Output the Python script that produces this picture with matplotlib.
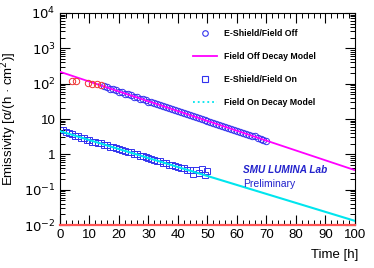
import matplotlib
matplotlib.use("Agg")
import matplotlib.pyplot as plt
import numpy as np
from matplotlib.lines import Line2D
from matplotlib.ticker import FixedLocator, FuncFormatter, MultipleLocator

plt.rcParams['font.family'] = ['Liberation Sans', 'DejaVu Sans']

# Field off, early points (red circles)
t_off_early = [4.0, 5.5, 9.5, 11.0, 12.5, 14.0]
e_off_early = [116, 117, 102, 101, 96, 92]

# Field off (blue circles)
t_off = list(range(15, 71))
e_off = [84, 79, 72, 69, 65, 59, 57, 52, 50, 47, 43, 41, 38, 36.5, 34, 31, 30, 28.5, 26, 25,
         23.2, 21.3, 20.5, 19.2, 17.5, 16.9, 15.5, 14.9, 13.6, 13.1, 12.0, 11.5, 10.6, 10.1, 9.3,
         8.9, 8.2, 7.8, 7.2, 6.9, 6.3, 6.0, 5.6, 5.3, 4.9, 4.7, 4.3, 4.1, 3.8, 3.6, 3.35, 3.2,
         2.95, 2.8, 2.6, 2.45]

# Field on (blue squares)
t_on = list(range(0, 51))
e_on = [4.9, 5.0, 4.3, 3.9, 3.7, 3.3, 3.3, 2.9, 2.9, 2.6, 2.6, 2.3, 2.3, 2.05, 2.05, 1.85,
        1.8, 1.65, 1.6, 1.47, 1.43, 1.3, 1.28, 1.15, 1.14, 1.02, 1.01, 0.92, 0.9, 0.82, 0.8,
        0.73, 0.71, 0.65, 0.63, 0.58, 0.56, 0.51, 0.5, 0.46, 0.45, 0.41, 0.4, 0.36, 0.35, 0.27,
        0.36, 0.29, 0.38, 0.26, 0.33]

# decay models
t_model = [0, 100]
off_a0, off_tau = 217.0, 15.6
on_a0, on_tau = 4.54, 17.1

blue = '#3333ee'
fig = plt.figure(figsize=(3.74, 2.68), dpi=100)
ax = fig.add_axes([0.1604, 0.1604, 0.7886, 0.7911])

tm = np.linspace(t_model[0], t_model[1], 200)
ax.plot(tm, off_a0 * np.exp(-tm / off_tau), color='#ff00ff', lw=1.3, zorder=3)
ax.plot(tm, on_a0 * np.exp(-tm / on_tau), color='#00e5ee', lw=1.5, zorder=3)

ax.plot(t_off_early, e_off_early, 'o', mfc='none', mec='#ee3333', ms=4.6, mew=0.7, zorder=4)
ax.plot(t_off, e_off, 'o', mfc='none', mec=blue, ms=4.6, mew=0.7, zorder=2)
ax.plot(t_on, e_on, 's', mfc='none', mec=blue, ms=4.6, mew=0.7, zorder=2)

ax.set_yscale('log')
ax.set_xlim(0, 100)
ax.set_ylim(1e-2, 1e4)

ylabs = {-2: '$10^{-2}$', -1: '$10^{-1}$', 0: '1', 1: '10', 2: '$10^{2}$', 3: '$10^{3}$', 4: '$10^{4}$'}
ax.yaxis.set_major_locator(FixedLocator([10.0 ** k for k in ylabs]))
ax.yaxis.set_major_formatter(FuncFormatter(lambda v, p: ylabs.get(int(round(np.log10(v))), '')))
minors = [m * 10.0 ** k for k in range(-2, 4) for m in range(2, 10)]
ax.yaxis.set_minor_locator(FixedLocator(minors))
ax.yaxis.set_minor_formatter(FuncFormatter(lambda v, p: ''))
ax.xaxis.set_major_locator(MultipleLocator(10))
ax.xaxis.set_minor_locator(MultipleLocator(2))

ax.tick_params(which='both', direction='in', top=True, right=True, labelsize=9.5, pad=3)
ax.tick_params(which='major', length=7, width=0.8)
ax.tick_params(which='minor', length=3.5, width=0.7)
ax.spines['bottom'].set_color('#ff5555')
ax.spines['bottom'].set_linewidth(1.6)

ax.set_ylabel('Emissivity [α/(h · cm$^{2}$)]', fontsize=9.5, labelpad=4)
ax.set_xlabel('Time [h]', fontsize=9.5)
ax.xaxis.set_label_coords(0.93, -0.115)

handles = [
    Line2D([], [], ls='none', marker='o', mfc='none', mec=blue, ms=4, mew=0.8),
    Line2D([], [], color='#ff00ff', lw=1.3),
    Line2D([], [], ls='none', marker='s', mfc='none', mec=blue, ms=4, mew=0.8),
    Line2D([], [], color='#00e5ee', lw=1.3, ls=':'),
]
labels = ['E-Shield/Field Off', 'Field Off Decay Model', 'E-Shield/Field On', 'Field On Decay Model']
ax.legend(handles, labels, loc='upper left', bbox_to_anchor=(0.45, 0.925), frameon=False,
          prop={'size': 6.3, 'weight': 'bold'}, labelspacing=1.6, handlelength=2.8,
          handletextpad=0.8, borderpad=0, borderaxespad=0)

ax.text(0.62, 0.245, 'SMU LUMINA Lab', transform=ax.transAxes, color='#2222cc',
        fontsize=7.2, fontweight='bold', fontstyle='italic')
ax.text(0.62, 0.18, 'Preliminary', transform=ax.transAxes, color='#2222cc', fontsize=7.5)

fig.savefig('out.png', dpi=100)
